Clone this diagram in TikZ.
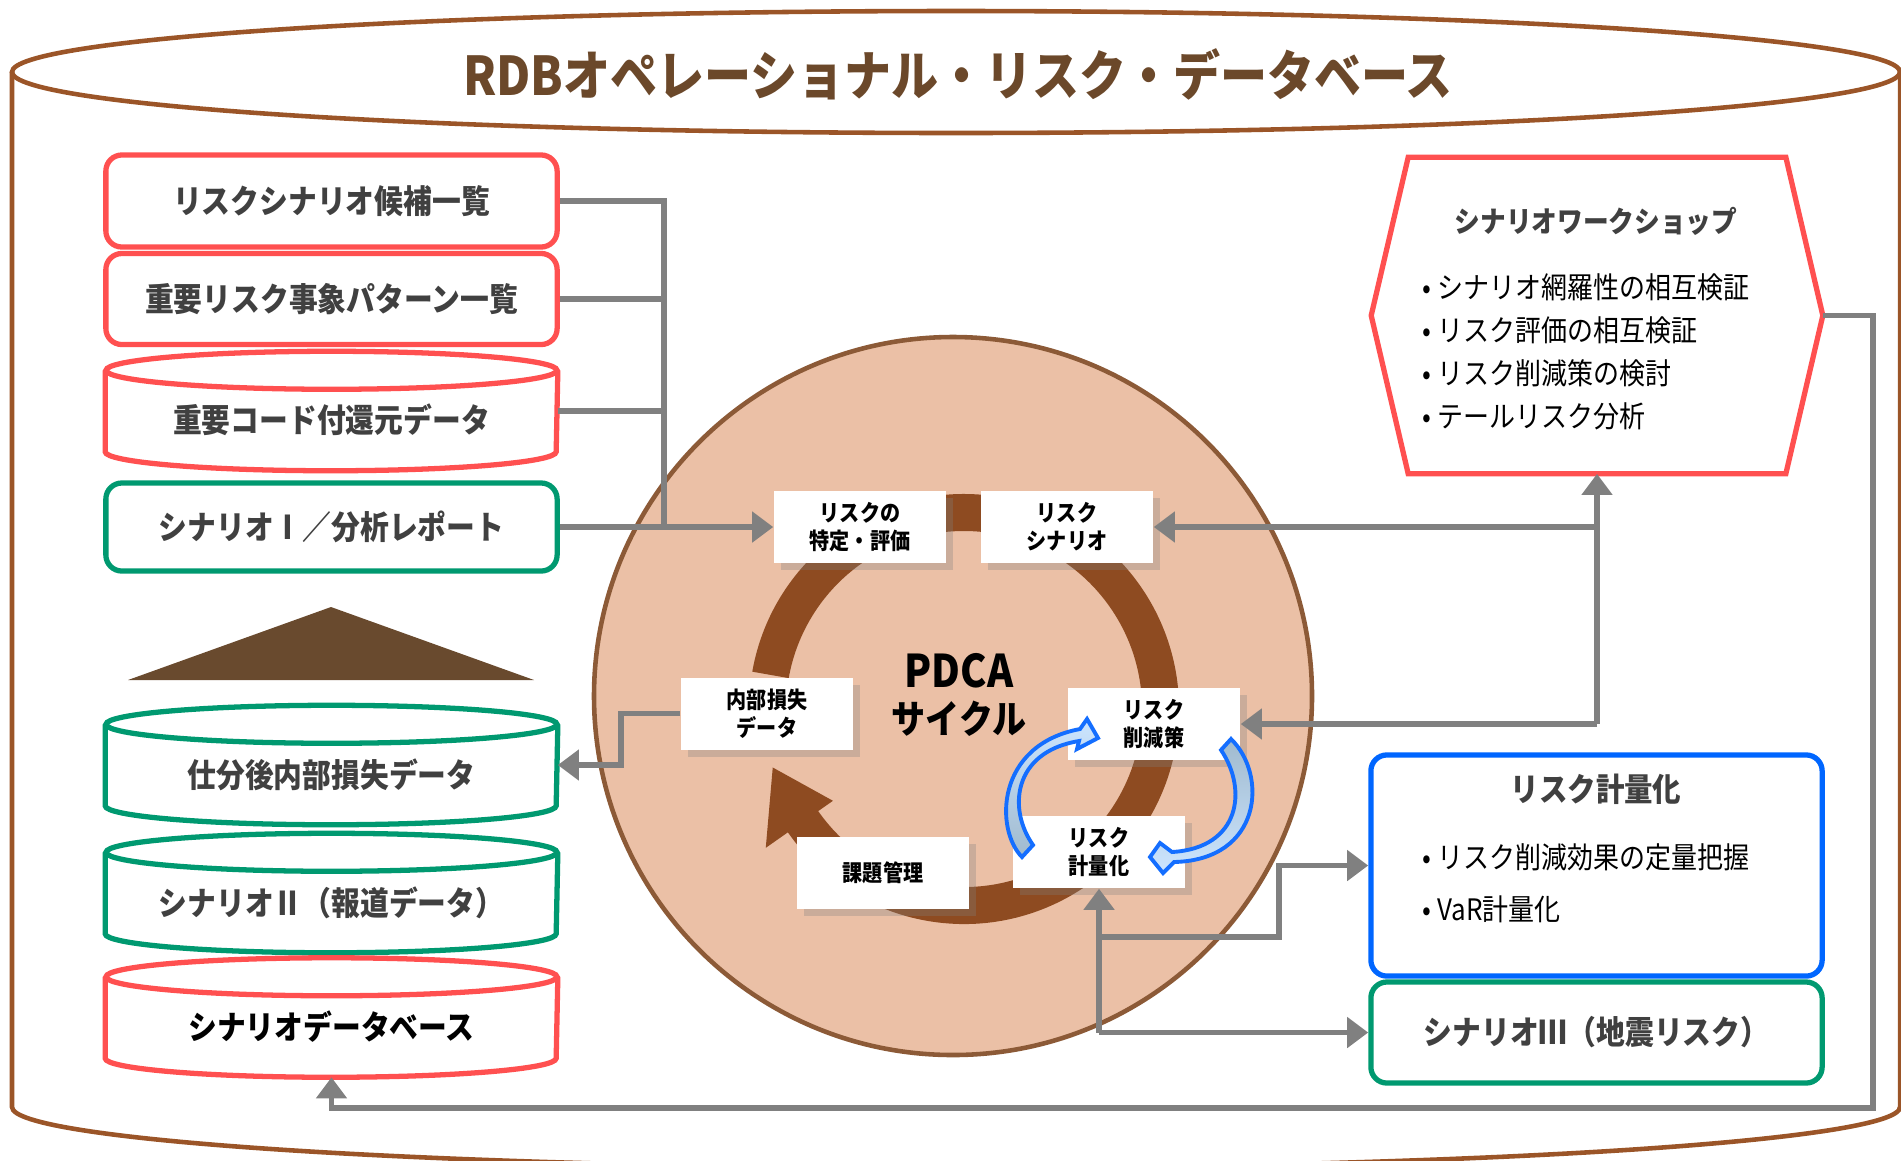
\documentclass[tikz,border=0pt]{standalone}
\usepackage{fontspec}
\setmainfont{Noto Sans CJK JP}[FakeStretch=0.88]
\usetikzlibrary{calc,positioning,arrows.meta,shadows}
\definecolor{dbbrown}{RGB}{155,85,40}
\definecolor{titlebrown}{RGB}{107,72,42}
\definecolor{tribrown}{RGB}{105,74,46}
\definecolor{cyclefill}{RGB}{235,192,166}
\definecolor{cycleline}{RGB}{140,90,55}
\definecolor{ringbrown}{RGB}{142,75,33}
\definecolor{boxred}{RGB}{255,80,80}
\definecolor{boxgreen}{RGB}{0,153,112}
\definecolor{boxblue}{RGB}{0,102,255}
\definecolor{linkgray}{RGB}{128,128,128}
\definecolor{txtgray}{RGB}{64,64,64}
\definecolor{arrblue}{RGB}{20,110,255}
\definecolor{arrlight}{RGB}{204,229,255}
\definecolor{arrdull}{RGB}{160,186,206}
\tikzset{
  rbox/.style={draw=#1, line width=1.5pt, rounded corners=0.16cm, fill=white,
    minimum width=4.51cm, inner sep=0pt},
  cylbox/.style={minimum width=4.51cm, minimum height=1.18cm, inner sep=0pt,
    text height=12.5pt, text depth=0pt},
  cylline/.style={draw=#1, line width=1.5pt},
  lefttxt/.style={font=\bfseries\fontsize{9.3}{11}\selectfont, text=txtgray},
  pdcabox/.style={fill=white, minimum width=1.72cm, minimum height=0.72cm,
    inner sep=0pt, align=center, font=\bfseries\fontsize{6.5}{8}\selectfont,
    drop shadow={shadow xshift=0.07cm, shadow yshift=-0.07cm, opacity=0.3}},
  gline/.style={draw=linkgray, line width=1.6pt},
  garrow/.style={gline, -{Triangle[length=6pt,width=8.5pt]}},
  bluearr/.style={draw=arrblue, line width=1.1pt},
}
% cylinder with a name: name, centre y, colour, text, text style
\newcommand{\cylnode}[5]{%
  \node[cylbox,#5] (#1) at (331.5,#2) {#4};
  \draw[cylline=#3] ($(#1.north west)+(0,19)$) -- ($(#1.south west)+(0,-19)$)
    arc[start angle=180,end angle=0,x radius=225.5,y radius=19]
    -- ($(#1.north east)+(0,19)$);
  \draw[cylline=#3] ($(#1.north)+(0,19)$) ellipse[x radius=225.5,y radius=19];
}

\begin{document}
\begin{tikzpicture}[x=0.01cm,y=-0.01cm]
  \useasboundingbox (0,0) rectangle (1901,1160);
  % outer database
  \draw[dbbrown,line width=1.3pt] (12,72) -- (12,1107)
    arc[start angle=180,end angle=0,x radius=944,y radius=61] -- (1900,72);
  \draw[dbbrown,line width=1.3pt] (956,72) ellipse[x radius=944,y radius=61];
  \node[font=\bfseries\fontsize{15.2}{18}\selectfont, text=titlebrown] (title) at (958,74)
    {RDBオペレーショナル・リスク・データベース};

  % left column
  \node[rbox=boxred, minimum height=0.92cm, lefttxt] (lb1) at (331.5,201) {リスクシナリオ候補一覧};
  \node[rbox=boxred, minimum height=0.91cm, lefttxt] (lb2) at (331.5,299) {重要リスク事象パターン一覧};
  \cylnode{lb3}{411}{boxred}{重要コード付還元データ}{lefttxt}
  \node[rbox=boxgreen, minimum height=0.88cm, lefttxt] (lb4) at (331.5,527) {シナリオⅠ／分析レポート};
  \fill[tribrown] (331,607) -- (534,680) -- (128,680) -- cycle;
  \cylnode{lb5}{765}{boxgreen}{仕分後内部損失データ}{lefttxt}
  \cylnode{lb6}{893}{boxgreen}{シナリオⅡ（報道データ）}{lefttxt}
  \cylnode{lb7}{1017.5}{boxred}{シナリオデータベース}{lefttxt,text=black}

  % PDCA circle
  \filldraw[fill=cyclefill, draw=cycleline, line width=1.3pt] (953,696) circle[radius=359];
  \coordinate (rc) at (964,709);
  \fill[ringbrown] ($(rc)+(190:215)$) arc[start angle=190,end angle=505,radius=215]
    -- ($(rc)+(505:242)$) -- ($(rc)+(523:200)$) -- ($(rc)+(505:160)$)
    -- ($(rc)+(505:178)$) arc[start angle=505,end angle=190,radius=178] -- cycle;
  \node[align=center, font=\bfseries\fontsize{11}{13}\selectfont] (pdca) at (959,695)
    {{\fontsize{12.8}{13}\selectfont PDCA}\\サイクル};
  \node[pdcabox] (pa) at (860,527) {リスクの\\特定・評価};
  \node[pdcabox] (ps) at (1067,527) {リスク\\シナリオ};
  \node[pdcabox] (pl) at (767,713.5) {内部損失\\データ};
  \node[pdcabox] (rr) at (1154,724) {リスク\\削減策};
  \node[pdcabox] (rq) at (1099,852) {リスク\\計量化};
  \node[pdcabox] (pk) at (883,873) {課題管理};
  \path[bluearr, top color=arrlight, bottom color=arrdull]
    (1022,857) .. controls (995,830) and (995,745) .. (1080,729) -- (1087,719)
    -- (1098,738) -- (1077,749) -- (1079,741)
    .. controls (1012,752) and (1008,810) .. (1033,845) -- cycle;
  \path[bluearr, top color=arrdull, bottom color=arrlight]
    (1231,739) .. controls (1268,775) and (1262,860) .. (1174,862) -- (1163,873)
    -- (1150,857) -- (1160,843) -- (1172,852)
    .. controls (1240,848) and (1248,790) .. (1221,750) -- cycle;

  % workshop
  \node[minimum width=3.76cm, minimum height=3.15cm, inner sep=0pt] (ws) at (1597,315.5) {};
  \draw[draw=boxred, line width=1.5pt] (ws.north west) -- (ws.north east)
    -- ($(ws.east)+(37,0)$) coordinate (wsr) -- (ws.south east) -- (ws.south west)
    -- ($(ws.west)+(-37,0)$) -- cycle;
  \node[font=\bfseries\fontsize{8.3}{10}\selectfont, text=txtgray] (wst) at (1596,221) {シナリオワークショップ};
  \node[anchor=west, align=left, font=\fontsize{8.4}{12.2}\selectfont] (wsl) at (1410,351.5)
    {• シナリオ網羅性の相互検証\\• リスク評価の相互検証\\• リスク削減策の検討\\• テールリスク分析};

  % quantification
  \node[rbox=boxblue, minimum height=2.21cm] (qt) at (1596.5,865.5) {};
  \node[font=\bfseries\fontsize{9.2}{11}\selectfont, text=txtgray] (qtt) at (1596,789) {リスク計量化};
  \node[anchor=west, align=left, font=\fontsize{8.4}{14.8}\selectfont] (qtl) at (1410,883)
    {• リスク削減効果の定量把握\\• VaR計量化};
  \node[rbox=boxgreen, minimum height=1.01cm, lefttxt] (s3) at (1596.5,1032.5) {シナリオⅢ（地震リスク）};

  % connectors
  \coordinate (k4) at (664,527);
  \draw[gline] (lb1.east) -| (k4);
  \draw[gline] (lb2.east) -- (lb2.east -| k4);
  \draw[gline] (lb3.east) -- (lb3.east -| k4);
  \draw[garrow] (lb4.east) -- (pa.west);
  \draw[garrow] (rr.east -| ws.south) -- (ws.south);
  \draw[garrow] (rr.east -| ws.south) -- (rr.east);
  \draw[garrow] (ps.east -| ws.south) -- (ps.east);
  \coordinate (k1) at (1279,937);
  \draw[garrow] (rq.south |- s3.west) -- (rq.south);
  \draw[garrow] (rq.south |- s3.west) -- (s3.west);
  \draw[garrow] (rq.south |- k1) -- (k1) |- (qt.west);
  \coordinate (k2) at (621,740);
  \draw[garrow] (pl.west) -- (pl.west -| k2) |- (lb5.east);
  \coordinate (k3) at (1873,1108);
  \draw[garrow] (wsr) -| (k3) -| (lb7.south);
\end{tikzpicture}
\end{document}
